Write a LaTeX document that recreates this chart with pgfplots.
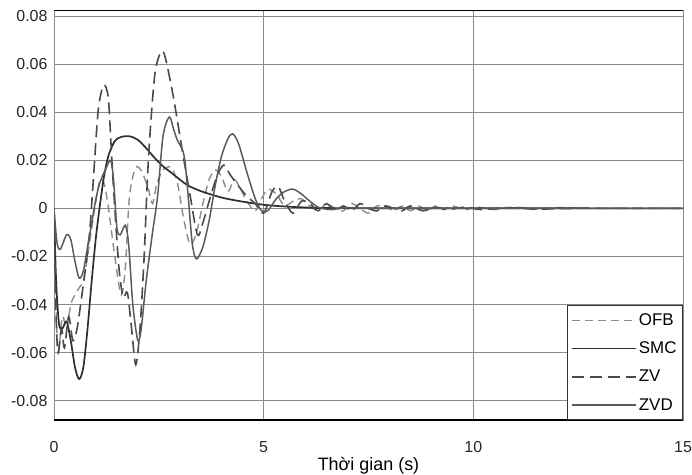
\documentclass[border=0pt]{standalone}
\usepackage{pgfplots}
\pgfplotsset{compat=1.18}
\usepackage{fontspec}
\setmainfont{Liberation Sans}

\definecolor{gridgray}{HTML}{8A8A8A}
\definecolor{ofbcol}{HTML}{8C8C8C}
\definecolor{smccol}{HTML}{2E2E2E}
\definecolor{zvcol}{HTML}{4A4A4A}
\definecolor{zvdcol}{HTML}{5A5A5A}

\begin{document}
\begin{tikzpicture}
\useasboundingbox (-54bp,-55bp) rectangle (638bp,420bp);
\begin{axis}[
  scale only axis,
  width=629bp, height=410bp,
  xmin=0, xmax=15,
  ymin=-0.088, ymax=0.0825,
  xtick={0,5,10,15},
  xticklabels={0,5,10,15},
  ytick={-0.08,-0.06,-0.04,-0.02,0,0.02,0.04,0.06,0.08},
  yticklabels={-0.08,-0.06,-0.04,-0.02,0,0.02,0.04,0.06,0.08},
  tick style={draw=none},
  grid=major,
  major grid style={gridgray, line width=0.8bp},
  axis line style={gridgray, line width=0.8bp},
  ticklabel style={font=\fontsize{16}{18}\selectfont, text=black!85},
  xticklabel style={yshift=-18bp},
  yticklabel style={xshift=-3bp},
  xlabel={Thời gian (s)},
  xlabel style={font=\fontsize{18}{20}\selectfont, yshift=2bp},
  legend cell align=left,
  legend style={at={(1,0)}, anchor=south east, draw=black!80, line width=1bp,
    font=\fontsize{17}{19}\selectfont, row sep=11bp, inner xsep=4bp, inner ysep=6bp},
  legend image code/.code={\draw[#1] (0bp,0bp) -- (64bp,0bp);},
]

% OFB: output feedback
\addplot[ofbcol, line width=1.4bp, dash pattern=on 8bp off 5bp, smooth, tension=0.5] coordinates {
(0,0) (0.05,-0.04) (0.1,-0.06) (0.2,-0.045) (0.3,-0.05) (0.4,-0.04) (0.5,-0.036)
(0.6,-0.033) (0.7,-0.03) (0.8,-0.02) (0.9,-0.008) (1.0,0.003) (1.1,0.012) (1.2,0.01)
(1.3,0.0) (1.45,-0.02) (1.6,-0.036) (1.7,-0.025) (1.8,0.005) (1.95,0.017) (2.1,0.015)
(2.25,0.008) (2.35,0.002) (2.45,0.01) (2.6,0.016) (2.8,0.017) (2.95,0.01) (3.1,-0.005)
(3.25,-0.015) (3.4,-0.01) (3.55,0.002) (3.7,0.012) (3.85,0.016) (4.0,0.013) (4.15,0.007)
(4.3,0.012) (4.45,0.008) (4.6,0.003) (4.8,-0.001) (4.95,0.004) (5.1,0.008) (5.3,0.006)
(5.5,0.001) (5.7,0.003) (5.9,0.004) (6.1,0.001) (6.3,-0.001) (6.5,0.002) (6.7,0.0)
(6.9,-0.001) (7.1,0.002) (7.3,0.0) (7.5,-0.002) (7.7,0.001) (7.9,0.001) (8.1,-0.001)
(8.3,0.001) (8.5,-0.001) (8.7,0.001) (8.9,-0.001) (9.1,0.001) (9.3,-0.0005) (9.5,0.001)
(9.8,-0.0005) (10.1,0.0005) (10.5,-0.0005) (11,0.0005) (11.5,-0.0003) (12,0.0003)
(13,0) (15,0)
};
\addlegendentry{OFB}

% SMC: sliding mode control
\addplot[smccol, line width=1.7bp, smooth, tension=0.5] coordinates {
(0,0) (0.05,-0.03) (0.12,-0.048) (0.2,-0.05) (0.3,-0.047) (0.4,-0.055) (0.5,-0.066)
(0.6,-0.071) (0.7,-0.066) (0.8,-0.05) (0.9,-0.03) (1.0,-0.012) (1.1,0.002) (1.2,0.014)
(1.3,0.022) (1.45,0.028) (1.6,0.0297) (1.8,0.030) (2.0,0.0285) (2.2,0.025) (2.4,0.021)
(2.6,0.0175) (2.8,0.0148) (3.0,0.012) (3.2,0.0095) (3.5,0.0072) (4.0,0.0045)
(4.5,0.0028) (5.0,0.0015) (5.5,0.0008) (6.0,0.0004) (7,0.0001) (15,0)
};
\addlegendentry{SMC}

% ZV: zero vibration input shaper
\addplot[zvcol, line width=1.6bp, dash pattern=on 12bp off 6bp, smooth, tension=0.5] coordinates {
(0,0) (0.05,-0.045) (0.1,-0.06) (0.18,-0.05) (0.25,-0.058) (0.35,-0.045) (0.45,-0.055)
(0.55,-0.05) (0.65,-0.038) (0.75,-0.025) (0.85,-0.01) (0.95,0.015) (1.05,0.04)
(1.15,0.05) (1.22,0.051) (1.3,0.045) (1.38,0.02) (1.45,0.0) (1.55,-0.025) (1.65,-0.037)
(1.75,-0.035) (1.85,-0.05) (1.95,-0.065) (2.05,-0.05) (2.15,-0.02) (2.25,0.02)
(2.4,0.055) (2.55,0.065) (2.65,0.063) (2.85,0.046) (3.05,0.025) (3.25,0.005)
(3.42,-0.011) (3.55,-0.006) (3.75,0.006) (3.9,0.014) (4.05,0.018) (4.2,0.014)
(4.37,0.01) (4.6,0.005) (4.8,0.002) (5.0,-0.002) (5.2,0.007) (5.35,0.009) (5.5,0.003)
(5.7,-0.002) (5.9,0.003) (6.1,0.002) (6.3,-0.001) (6.5,0.002) (6.7,-0.001) (6.9,0.001)
(7.1,-0.001) (7.3,0.002) (7.5,0.0) (7.7,-0.001) (7.9,0.001) (8.1,0.0) (8.3,-0.001)
(8.5,0.001) (8.8,-0.001) (9.1,0.0005) (9.4,-0.0005) (9.8,0.0005) (10.2,-0.0005)
(10.8,0.0003) (11.5,-0.0003) (12.5,0) (15,0)
};
\addlegendentry{ZV}

% ZVD: zero vibration and derivative input shaper
\addplot[zvdcol, line width=1.5bp, smooth, tension=0.5] coordinates {
(0,0) (0.07,-0.014) (0.15,-0.017) (0.3,-0.011) (0.4,-0.013) (0.5,-0.022) (0.6,-0.029)
(0.7,-0.026) (0.8,-0.016) (0.9,-0.006) (1.0,0.004) (1.1,0.011) (1.25,0.017) (1.35,0.02)
(1.42,0.012) (1.5,-0.008) (1.58,-0.011) (1.7,-0.007) (1.78,-0.015) (1.88,-0.04)
(2.0,-0.055) (2.08,-0.05) (2.2,-0.03) (2.35,-0.01) (2.47,0.005) (2.6,0.03) (2.75,0.038)
(2.85,0.033) (2.95,0.028) (3.05,0.025) (3.12,0.02) (3.2,0.005) (3.3,-0.015)
(3.4,-0.021) (3.55,-0.016) (3.7,-0.005) (3.85,0.01) (4.0,0.022) (4.15,0.029)
(4.26,0.031) (4.4,0.027) (4.6,0.015) (4.8,0.004) (4.95,-0.001) (5.1,-0.001) (5.3,0.004)
(5.5,0.007) (5.7,0.008) (5.9,0.006) (6.1,0.003) (6.3,0.0005) (6.6,-0.0005) (7,0.0003)
(8,0) (15,0)
};
\addlegendentry{ZVD}

% heavier frame along the top and bottom edges
\draw[black, line width=2.2bp] (rel axis cs:0,0) -- (rel axis cs:1,0);
\draw[black, line width=2.2bp] (rel axis cs:0,1) -- (rel axis cs:1,1);
\end{axis}
\end{tikzpicture}
\end{document}
